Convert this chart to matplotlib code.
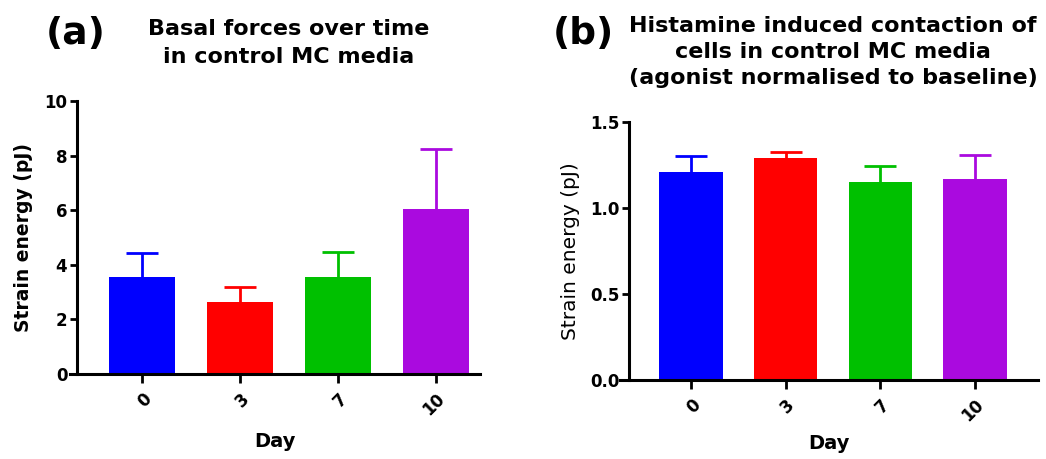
import matplotlib
matplotlib.use("Agg")
import matplotlib.pyplot as plt
import numpy as np

plt.rcParams["font.family"] = ["DejaVu Sans"]

days = ["0", "3", "7", "10"]
colors = ["#0000FF", "#FF0000", "#00C000", "#AA0ADF"]

# (a) basal strain energy, mean and upper error
basal_mean = [3.55, 2.63, 3.55, 6.05]
basal_err = [0.88, 0.57, 0.92, 2.2]

# (b) histamine response normalised to baseline
hist_mean = [1.207, 1.289, 1.149, 1.170]
hist_err = [0.095, 0.034, 0.093, 0.136]


def draw_panel(ax, mean, err, ylim, yticks, yfmt, spine_x, xlim,
               ylabel_weight, ylabel_size, xlabel_pad):
    # move the y spine first: set_position resets the tick objects
    for s in ["top", "right"]:
        ax.spines[s].set_visible(False)
    ax.spines["left"].set_position(("data", spine_x))
    ax.spines["left"].set_linewidth(2.2)
    ax.spines["bottom"].set_linewidth(2.2)

    x = np.arange(len(days))
    ax.bar(x, mean, width=0.67, color=colors, zorder=2)
    for xi, m, e, c in zip(x, mean, err, colors):
        _, caps, _ = ax.errorbar(xi, m, yerr=[[0], [e]], fmt="none", ecolor=c,
                                 elinewidth=2.0, capsize=11.5, capthick=2.0,
                                 zorder=1)
        # upper whisker only
        for cap in caps:
            if np.allclose(cap.get_ydata(), m):
                cap.set_visible(False)
    ax.set_xlim(*xlim)
    ax.set_ylim(*ylim)
    ax.set_yticks(yticks)
    ax.set_yticklabels([yfmt.format(v) for v in yticks], fontweight="bold",
                       fontsize=12)
    ax.set_xticks(x)
    ax.set_xticklabels(days, rotation=45, ha="right", rotation_mode="anchor",
                       fontweight="bold", fontsize=12)
    ax.tick_params(axis="y", width=2, length=5, pad=2)
    ax.tick_params(axis="x", width=2, length=6.5, pad=5)
    ax.set_xlabel("Day", fontweight="bold", fontsize=14, labelpad=xlabel_pad)
    ax.set_ylabel("Strain energy (pJ)", fontweight=ylabel_weight,
                  fontsize=ylabel_size)


fig = plt.figure(figsize=(10.46, 4.59), dpi=100)

ax1 = fig.add_axes([70 / 1046, 1 - 374 / 459, 410 / 1046, 273 / 459])
draw_panel(ax1, basal_mean, basal_err, (0, 10), [0, 2, 4, 6, 8, 10], "{:g}",
           -0.663, (-0.735, 3.449), "bold", 13.5, 9.5)
ax1.yaxis.set_label_coords(-0.09, 0.5)

ax2 = fig.add_axes([620 / 1046, 1 - 380 / 459, 418 / 1046, 258 / 459])
draw_panel(ax2, hist_mean, hist_err, (0, 1.5), [0.0, 0.5, 1.0, 1.5], "{:.1f}",
           -0.655, (-0.75, 3.665), "normal", 14.5, 6.5)
ax2.yaxis.set_label_coords(-0.096, 0.5)

fig.text(289 / 1046, 1 - 19 / 459,
         "Basal forces over time\nin control MC media",
         ha="center", va="top", fontsize=16, fontweight="bold",
         linespacing=1.5)
fig.text(76 / 1046, 1 - 34 / 459, "(a)", ha="center", va="center",
         fontsize=27, fontweight="bold")

fig.text(833 / 1046, 1 - 16 / 459,
         "Histamine induced contaction of\ncells in control MC media\n"
         "(agonist normalised to baseline)",
         ha="center", va="top", fontsize=16, fontweight="bold",
         linespacing=1.38)
fig.text(583 / 1046, 1 - 34 / 459, "(b)", ha="center", va="center",
         fontsize=27, fontweight="bold")

fig.savefig("out.png", dpi=100)
